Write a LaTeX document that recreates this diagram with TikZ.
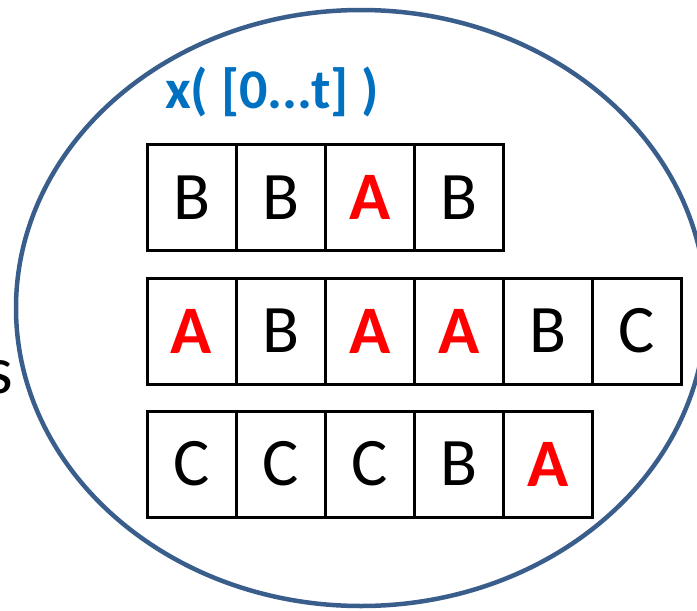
\documentclass[tikz,border=0pt]{standalone}
\usepackage{fontspec}
\setmainfont{Carlito}
\definecolor{ringblue}{RGB}{58,94,140}
\definecolor{titleblue}{RGB}{0,112,192}
\definecolor{letterred}{RGB}{255,0,0}
\begin{document}
\begin{tikzpicture}[x=1pt,y=-1pt,
  cellbox/.style={draw=black,line width=3pt,minimum width=89.1pt,minimum height=106pt,inner sep=0pt,anchor=north west,font=\fontsize{68}{70}\selectfont},
  hit/.style={text=letterred,font=\fontsize{68}{70}\selectfont\bfseries},
  ring/.style={draw=ringblue,line width=4.5pt}]
\useasboundingbox (0,0) rectangle (697,611);
\begin{scope}
\clip (0,0) rectangle (697,611);
\draw[ring] (361,308) ellipse [x radius=345, y radius=298];
\node[anchor=base east,inner sep=0pt,font=\fontsize{68}{70}\selectfont] (s) at (13,393) {s};
\end{scope}
\node[anchor=base west,inner sep=0pt,text=titleblue,font=\fontsize{56}{58}\selectfont\bfseries] (title) at (165,108) {x( [0...t] )};
% row 1
\node[cellbox] (a1) at (145.5,143) {B};
\node[cellbox] (a2) at (234.6,143) {B};
\node[cellbox,hit] (a3) at (323.7,143) {A};
\node[cellbox] (a4) at (412.8,143) {B};
% row 2
\node[cellbox,hit] (b1) at (145.5,276.5) {A};
\node[cellbox] (b2) at (234.6,276.5) {B};
\node[cellbox,hit] (b3) at (323.7,276.5) {A};
\node[cellbox,hit] (b4) at (412.8,276.5) {A};
\node[cellbox] (b5) at (501.9,276.5) {B};
\node[cellbox] (b6) at (591.0,276.5) {C};
% row 3
\node[cellbox] (c1) at (145.5,409.5) {C};
\node[cellbox] (c2) at (234.6,409.5) {C};
\node[cellbox] (c3) at (323.7,409.5) {C};
\node[cellbox] (c4) at (412.8,409.5) {B};
\node[cellbox,hit] (c5) at (501.9,409.5) {A};
\end{tikzpicture}
\end{document}
